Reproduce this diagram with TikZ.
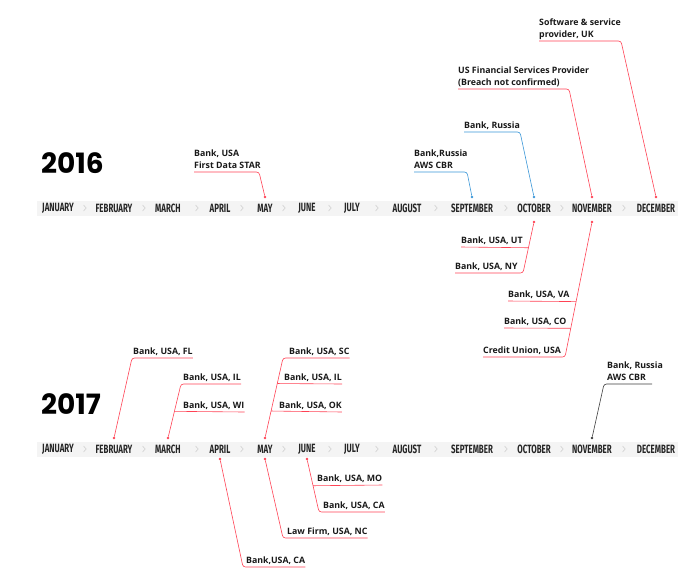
\documentclass[tikz,border=0pt]{standalone}
\usepackage{fontspec}
\setmainfont{Open Sans}
\newfontfamily\monthfont[FakeStretch=0.66]{Fira Sans}
\newfontfamily\yearfont{Poppins}
\definecolor{lred}{RGB}{255,66,84}
\definecolor{lblue}{RGB}{58,150,215}
\definecolor{kgray}{RGB}{60,60,60}
\definecolor{bandgray}{RGB}{244,244,244}

\begin{document}
\begin{tikzpicture}[x=1pt,y=-1pt,
  month/.style={font=\monthfont\bfseries\fontsize{12}{12}\selectfont, text=black!85, inner sep=0pt},
  lbl/.style={font=\bfseries\fontsize{8.8}{12.5}\selectfont, text=black!90, align=left,
    anchor=south west, inner xsep=0pt, inner ysep=3pt, text depth=0pt},
  year/.style={font=\yearfont\bfseries\fontsize{28}{28}\selectfont, anchor=base west, inner sep=0pt},
  link/.style={line width=0.6pt, rounded corners=2.5pt},
  mdot/.style={circle, fill=#1, inner sep=0pt, minimum size=2.6pt},
  chev/.style={draw=black!18, line width=0.6pt}
]
\useasboundingbox (0,0) rectangle (700,579);

% timelines
\fill[bandgray] (37,201) rectangle (678,216);
\fill[bandgray] (37,442) rectangle (678,457);
\foreach \y in {208,449}
  \foreach \x in {85,144,197,242,284,330,377,436,506,562,624}
    \draw[chev] (\x-1.5,\y-3) -- (\x+1.2,\y) -- (\x-1.5,\y+3);
\foreach \m/\x [count=\i] in {JANUARY/58,FEBRUARY/114,MARCH/168,APRIL/220,MAY/265,JUNE/307,
    JULY/352,AUGUST/407,SEPTEMBER/472,OCTOBER/534,NOVEMBER/592,DECEMBER/656}{
  \node[month] (a\i) at (\x,208) {\m};
  \node[month] (b\i) at (\x,449) {\m};
}
\node[year] (y16) at (41,173) {2016};
\node[year] (y17) at (41,414) {2017};

% dots
\node[mdot=lred] (u16may) at (a5 |- 0,197) {};
\node[mdot=lblue] (u16sep) at (a9 |- 0,197) {};
\node[mdot=lblue] (u16oct) at (a10 |- 0,197) {};
\node[mdot=lred] (u16nov) at (a11 |- 0,197) {};
\node[mdot=lred] (u16dec) at (a12 |- 0,197) {};
\node[mdot=lred] (l16oct) at (a10 |- 0,222) {};
\node[mdot=lred] (l16nov) at (a11 |- 0,222) {};
\node[mdot=lred] (u17feb) at (b2 |- 0,438) {};
\node[mdot=lred] (u17mar) at (b3 |- 0,438) {};
\node[mdot=lred] (u17may) at (b5 |- 0,438) {};
\node[mdot=kgray] (u17nov) at (b11 |- 0,438) {};
\node[mdot=lred] (l17apr) at (b4 |- 0,459) {};
\node[mdot=lred] (l17may) at (b5 |- 0,459) {};
\node[mdot=lred] (l17jun) at (b6 |- 0,459) {};

% 2016 above
\node[lbl] (star) at (194,172) {Bank, USA\\First Data STAR};
\draw[link,lred] (star.south west) -- ++(65,0) -- (u16may);
\node[lbl] (cbr16) at (414,172) {Bank,Russia\\AWS CBR};
\draw[link,lblue] (cbr16.south west) -- ++(53,0) -- (u16sep);
\node[lbl] (rus16) at (464,132) {Bank, Russia};
\draw[link,lblue] (rus16.south west) -- ++(56,0) -- (u16oct);
\node[lbl] (fsp) at (458,89) {US Financial Services Provider\\(Breach not confirmed)};
\draw[link,lred] (fsp.south west) -- ++(111,0) -- (u16nov);
\node[lbl] (uk) at (539,41) {Software \& service\\provider, UK};
\draw[link,lred] (uk.south west) -- ++(82,0) -- (u16dec);

% 2016 below
\coordinate (e16oct) at (523,273);
\coordinate (e16nov) at (565,357);
\path (l16oct) -- (e16oct) coordinate[pos=.49] (j16ut);
\path (l16nov) -- (e16nov) coordinate[pos=.585] (j16va) coordinate[pos=.785] (j16co);
\node[lbl] (ut) at (461,247) {Bank, USA, UT};
\node[lbl] (ny) at (455,273) {Bank, USA, NY};
\node[lbl] (va) at (508,301) {Bank, USA, VA};
\node[lbl] (co) at (504,328) {Bank, USA, CO};
\node[lbl] (cu) at (483,357) {Credit Union, USA};
\draw[link,lred] (l16oct) -- (e16oct) -- (ny.south west);
\draw[link,lred] (ut.south west) -- (j16ut);
\draw[link,lred] (l16nov) -- (e16nov) -- (cu.south west);
\draw[link,lred] (va.south west) -- (j16va);
\draw[link,lred] (co.south west) -- (j16co);

% 2017 above
\coordinate (e17feb) at (132,358);
\coordinate (e17mar) at (181,384);
\coordinate (e17may) at (283,358);
\coordinate (e17nov) at (604,384);
\path (e17mar) -- (u17mar) coordinate[pos=.52] (j17wi);
\path (e17may) -- (u17may) coordinate[pos=.325] (j17il) coordinate[pos=.675] (j17ok);
\node[lbl] (fl) at (133,358) {Bank, USA, FL};
\node[lbl] (il1) at (183,384) {Bank, USA, IL};
\node[lbl] (wi) at (183,412) {Bank, USA, WI};
\node[lbl] (sc) at (289,358) {Bank, USA, SC};
\node[lbl] (il2) at (284,384) {Bank, USA, IL};
\node[lbl] (ok) at (279,412) {Bank, USA, OK};
\node[lbl] (cbr17) at (607,384) {Bank, Russia\\AWS CBR};
\draw[link,lred] (fl.south east) -- (e17feb) -- (u17feb);
\draw[link,lred] (il1.south east) -- (e17mar) -- (u17mar);
\draw[link,lred] (wi.south east) -- (j17wi);
\draw[link,lred] (sc.south east) -- (e17may) -- (u17may);
\draw[link,lred] (il2.south east) -- (j17il);
\draw[link,lred] (ok.south east) -- (j17ok);
\draw[link,kgray] (cbr17.south west) ++(45,0) -- (e17nov) -- (u17nov);

% 2017 below
\coordinate (f17apr) at (243,567);
\coordinate (f17may) at (283,538);
\coordinate (f17jun) at (319,512);
\path (l17jun) -- (f17jun) coordinate[pos=.49] (j17mo);
\node[lbl] (ca1) at (246,567) {Bank,USA, CA};
\node[lbl] (nc) at (287,538) {Law Firm, USA, NC};
\node[lbl] (mo) at (317,485) {Bank, USA, MO};
\node[lbl] (ca2) at (323,512) {Bank, USA, CA};
\draw[link,lred] (l17apr) -- (f17apr) -- (ca1.south east);
\draw[link,lred] (l17may) -- (f17may) -- (nc.south east);
\draw[link,lred] (l17jun) -- (f17jun) -- (ca2.south east);
\draw[link,lred] (j17mo) -- (mo.south east);
\end{tikzpicture}
\end{document}
